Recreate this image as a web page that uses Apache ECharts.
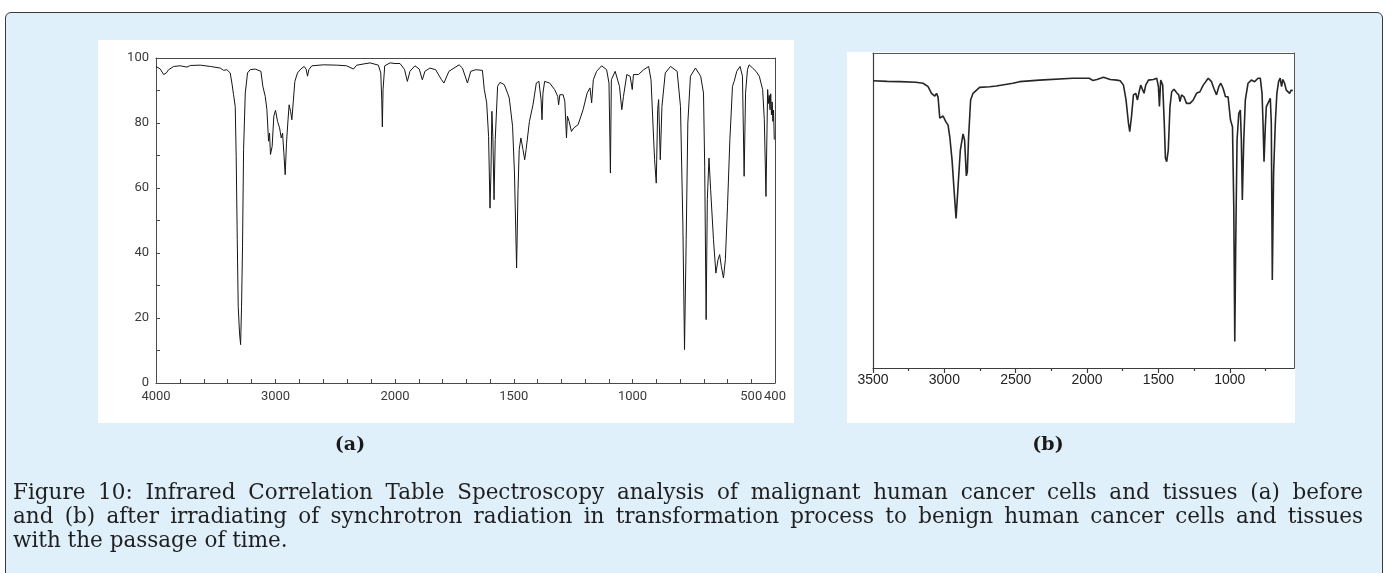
<!DOCTYPE html>
<html>
<head>
<meta charset="utf-8">
<script src="https://cdn.jsdelivr.net/npm/echarts@6/dist/echarts.min.js"></script>
<style>
  html, body { margin: 0; padding: 0; background: #ffffff; }
  body { width: 1392px; height: 573px; overflow: hidden; position: relative; }
  #frame { position: absolute; left: 5px; top: 12px; width: 1378px; height: 620px;
           border: 1px solid #3a3a3a; border-radius: 6px; background: #dff0fb; box-sizing: border-box; }
  .panel { position: absolute; background: #ffffff; }
  #chart { position: absolute; left: 0; top: 0; width: 1392px; height: 573px; }
  .sub { position: absolute; top: 430px; font-family: "DejaVu Serif", serif; font-weight: bold;
         font-size: 19px; color: #1a1a1a; width: 60px; text-align: center; line-height: 26px; }
  #caption { position: absolute; left: 13px; top: 480px; width: 1350px;
             font-family: "DejaVu Serif", serif; font-size: 21.5px; letter-spacing: 0px; color: #1f1f1f; line-height: 24px; }
  #caption .j { white-space: nowrap; text-align: justify; text-align-last: justify; }
  #caption .l { white-space: nowrap; }
</style>
</head>
<body>
<div id="frame"></div>
<div class="panel" style="left:98px;top:40px;width:696px;height:383px;"></div>
<div class="panel" style="left:847px;top:52px;width:448px;height:371px;"></div>
<div id="chart"></div>
<div class="sub" style="left:320px;">(a)</div>
<div class="sub" style="left:1018px;">(b)</div>
<div id="caption">
  <div class="j">Figure 10: Infrared Correlation Table Spectroscopy analysis of malignant human cancer cells and tissues (a) before</div>
  <div class="j">and (b) after irradiating of synchrotron radiation in transformation process to benign human cancer cells and tissues</div>
  <div class="l">with the passage of time.</div>
</div>
<script>
// ---------- Spectrum (a): wavenumber (cm-1) and transmittance (%) ----------
const specA_wavenumber = [
  4000,3964,3936,3914,3894,3852,3797,3741,3713,3629,3546,3462,3434,3407,3379,3365,3351,3337,3329,3320,
  3312,3301,3292,3284,3276,3267,3253,3234,3212,3170,3122,3106,3086,3072,3058,3050,3042,3028,3014,3000,
  2983,2966,2952,2941,2930,2919,2908,2897,2886,2874,2863,2852,2838,2816,2788,2760,2744,2732,2721,2696,
  2599,2487,2404,2348,2320,2209,2139,2119,2111,2106,2100,2086,2041,2000,
  1979,1960,1948,1937,1916,1898,1885,1874,1853,1829,1804,1794,1773,1730,1716,1695,1681,1660,1632,1624,
  1614,1606,1600,1596,1592,1588,1583,1578,1568,1558,1540,1526,1519,1505,1497,1488,1482,1477,1470,1461,
  1454,1448,1434,1419,1411,1405,1394,1385,1381,1377,1370,1349,1328,1315,1311,1306,1292,1285,1278,1274,
  1267,1257,1247,1229,1208,1191,1179,1172,1165,1151,1130,1109,1099,1093,1089,1073,1055,1045,1038,1024,
  1010,1001,996,975,953,932,922,914,907,900,894,890,883,876,862,840,812,798,788,781,
  774,767,756,735,713,701,696,690,685,678,671,659,649,640,633,626,617,609,600,590,
  579,572,561,547,537,530,524,516,509,494,480,466,459,452,445,438,431,427,424,421,
  418,415,412,409,406,403
];
const specA_transmittance = [
  97.4,96.6,94.9,95.4,96.4,97.4,97.6,97.2,97.7,97.8,97.4,96.9,96.2,96.4,95.4,92.3,88.7,85.1,69.7,44.1,
  23.6,15.4,11.8,23.6,42.1,71.8,89.2,95.4,96.4,96.6,95.9,91.3,88.2,84.1,74.4,76.9,70.3,72.8,82.1,83.9,
  80.5,78.5,75.4,76.9,70.8,64.1,73.8,80.0,85.6,83.6,81.0,86.2,92.8,95.4,96.6,97.4,96.6,94.4,96.4,97.6,
  97.9,97.8,97.6,96.6,97.8,98.5,97.8,95.4,87.2,78.8,90.3,97.6,98.5,98.3,
  98.3,96.5,92.8,95.9,97.6,96.6,93.3,95.9,96.9,96.4,93.3,92.3,95.9,97.9,96.9,92.3,95.9,96.4,96.2,90.3,
  86.2,75.9,53.8,64.6,83.6,75.9,56.4,74.9,91.3,92.5,91.8,89.2,87.7,79.0,64.6,35.4,59.5,71.8,75.4,71.8,
  68.7,71.8,80.5,85.6,86.2,92.3,92.8,87.2,81.0,89.2,92.8,92.3,90.3,88.2,85.6,88.7,88.7,86.7,75.4,82.1,
  80.5,77.4,78.5,79.5,84.1,89.2,90.8,86.2,93.3,95.9,97.6,96.4,92.3,64.6,93.3,95.9,91.3,84.1,88.2,94.9,
  94.4,90.3,94.9,94.9,96.4,97.4,93.3,80.0,68.7,61.5,84.1,87.2,68.7,85.1,95.4,97.4,95.9,85.1,49.2,10.3,
  44.1,80.0,94.4,96.9,94.4,89.2,66.7,19.5,56.4,69.2,59.5,44.1,33.8,37.9,39.5,35.9,32.3,37.9,54.4,74.9,
  91.3,92.8,95.9,97.4,94.4,63.6,89.2,96.4,97.9,96.9,95.9,94.4,92.3,90.3,81.0,57.4,90.3,86.0,88.5,84.1,
  89.0,82.5,86.5,80.5,84.0,74.9
];
const specA_xTicksHigh = [2000,2200,2400,2600,2800,3000,3200,3400,3600,3800,4000];
const specA_xLabelsHigh = [4000,3000,2000];
const specA_xTicksLow = [400,500,600,700,800,900,1000,1100,1200,1300,1400,1500,1600,1700,1800,1900,2000];
const specA_xLabelsLow = [1500,1000,500,400];
const specA_yTicks = [0,10,20,30,40,50,60,70,80,90,100];
const specA_yLabels = [0,20,40,60,80,100];

// ---------- Spectrum (b) ----------
const specB_wavenumber = [
  3500,3400,3311,3200,3149,3114,3090,3067,3055,3044,3032,3025,3009,2990,2974,2962,2946,2932,2918,2904,
  2888,2869,2858,2846,2839,2830,2816,2799,2753,2683,2636,2520,2473,2334,2101,1985,1960,1931,1885,1838,
  1791,1768,1745,1727,1710,1701,1689,1675,1659,1647,1635,1624,1610,1601,1589,1570,1535,1512,1500,1493,
  1484,1470,1459,1451,1442,1431,1419,1407,1391,1372,1358,1349,1338,1321,1303,1279,1256,1233,1209,1186,
  1151,1128,1112,1093,1077,1063,1047,1030,1012,995,981,972,965,958,949,937,926,919,912,902,
  891,872,849,826,802,786,774,767,760,751,744,728,716,709,702,693,681,670,658,647,
  637,628,616,604,593,581,570,558
];
const specB_transmittance = [
  91.2,91.0,90.9,90.7,90.4,89.3,87.2,86.3,87.2,86.0,79.3,78.7,80.0,78.2,77.1,73.4,66.0,56.5,47.5,57.6,
  69.2,74.3,72.3,61.0,62.3,73.4,85.1,87.2,89.1,89.3,89.5,90.4,90.9,91.4,92.0,92.0,91.3,91.6,92.3,91.6,
  91.4,91.2,89.8,85.1,77.7,75.0,79.7,86.7,87.2,85.1,87.7,89.8,90.4,87.2,89.8,91.4,91.6,92.0,89.3,83.0,
  91.4,89.8,77.7,66.6,65.5,69.2,83.0,87.7,88.5,87.4,86.7,84.6,86.7,86.1,84.0,84.0,85.1,87.2,87.7,89.8,
  92.0,90.9,88.8,86.7,89.3,90.4,88.8,86.1,86.1,78.7,76.6,51.2,8.4,40.6,72.4,80.8,81.9,72.4,53.3,72.4,
  85.1,90.4,91.4,90.9,92.0,92.0,87.2,77.7,65.5,76.6,82.9,84.5,85.6,77.7,27.9,61.8,77.7,87.2,90.9,92.0,
  89.3,91.6,90.4,88.2,88.8,87.2,88.2,88.1
];
const specB_xMajor = [3500,3000,2500,2000,1500,1000];
const specB_xMinor = [3250,2750,2250,1750,1250,750];

// ---------- build ----------
const pairsA = specA_wavenumber.map((w, i) => [w, specA_transmittance[i]]);
const dataA_high = pairsA.filter(p => p[0] >= 2000);
const dataA_low = pairsA.filter(p => p[0] <= 2000);
const dataB = specB_wavenumber.map((w, i) => [w, specB_transmittance[i]]);

const narrowFont = 'Roboto, "Liberation Sans", sans-serif';
const axisGrayA = '#4a4a4a';
const axisGrayB = '#3c3c3c';
const plain = v => String(v);

function hiddenAxisBits() {
  return { axisTick: { show: false }, axisLabel: { show: false }, splitLine: { show: false } };
}

const option = {
  animation: false,
  backgroundColor: 'transparent',
  grid: [
    { left: 156, top: 58, width: 239, height: 325 },
    { left: 395, top: 58, width: 380, height: 325 },
    { left: 873, top: 53, width: 421, height: 315 }
  ],
  xAxis: [
    { type: 'value', gridIndex: 0, min: 2000, max: 4000, inverse: true, position: 'bottom',
      axisLine: { show: true, lineStyle: { color: axisGrayA, width: 1 } },
      axisTick: { show: true, inside: true, length: 4, customValues: specA_xTicksHigh, lineStyle: { color: axisGrayA } },
      axisLabel: { show: true, customValues: specA_xLabelsHigh, formatter: plain, margin: 7, fontFamily: narrowFont,
                   fontSize: 13, color: '#3a3a3a', hideOverlap: false, showMinLabel: true, showMaxLabel: true },
      splitLine: { show: false } },
    { type: 'value', gridIndex: 1, min: 400, max: 2000, inverse: true, position: 'bottom',
      axisLine: { show: true, lineStyle: { color: axisGrayA, width: 1 } },
      axisTick: { show: true, inside: true, length: 4, customValues: specA_xTicksLow, lineStyle: { color: axisGrayA } },
      axisLabel: { show: true, customValues: specA_xLabelsLow, formatter: plain, margin: 7, fontFamily: narrowFont,
                   fontSize: 13, color: '#3a3a3a', hideOverlap: false, showMinLabel: true, showMaxLabel: true },
      splitLine: { show: false } },
    Object.assign({ type: 'value', gridIndex: 0, min: 2000, max: 4000, inverse: true, position: 'top',
      axisLine: { show: true, lineStyle: { color: axisGrayA, width: 1 } } }, hiddenAxisBits()),
    Object.assign({ type: 'value', gridIndex: 1, min: 400, max: 2000, inverse: true, position: 'top',
      axisLine: { show: true, lineStyle: { color: axisGrayA, width: 1 } } }, hiddenAxisBits()),
    { type: 'value', gridIndex: 2, min: 550, max: 3500, inverse: true, position: 'bottom',
      axisLine: { show: true, lineStyle: { color: axisGrayB, width: 1.2 } },
      axisTick: { show: true, inside: false, length: 5, customValues: specB_xMajor, lineStyle: { color: axisGrayB, width: 1.2 } },
      axisLabel: { show: true, customValues: specB_xMajor, formatter: plain, margin: 5,
                   fontFamily: '"Liberation Sans", Arial, sans-serif', fontSize: 14, color: '#222',
                   hideOverlap: false, showMinLabel: true, showMaxLabel: true },
      splitLine: { show: false } },
    { type: 'value', gridIndex: 2, min: 550, max: 3500, inverse: true, position: 'bottom',
      axisLine: { show: false },
      axisTick: { show: true, inside: false, length: 3, customValues: specB_xMinor, lineStyle: { color: axisGrayB, width: 1.2 } },
      axisLabel: { show: false }, splitLine: { show: false } },
    Object.assign({ type: 'value', gridIndex: 2, min: 550, max: 3500, inverse: true, position: 'top',
      axisLine: { show: true, lineStyle: { color: '#555', width: 1 } } }, hiddenAxisBits())
  ],
  yAxis: [
    { type: 'value', gridIndex: 0, min: 0, max: 100, position: 'left',
      axisLine: { show: true, lineStyle: { color: axisGrayA, width: 1 } },
      axisTick: { show: true, inside: true, length: 4, customValues: specA_yTicks, lineStyle: { color: axisGrayA } },
      axisLabel: { show: true, customValues: specA_yLabels, formatter: plain, margin: 7, fontFamily: narrowFont,
                   fontSize: 13, color: '#3a3a3a', showMinLabel: true, showMaxLabel: true },
      splitLine: { show: false } },
    Object.assign({ type: 'value', gridIndex: 1, min: 0, max: 100, position: 'right',
      axisLine: { show: true, lineStyle: { color: axisGrayA, width: 1 } } }, hiddenAxisBits()),
    Object.assign({ type: 'value', gridIndex: 2, min: 0, max: 100, position: 'left',
      axisLine: { show: true, lineStyle: { color: axisGrayB, width: 1.2 } } }, hiddenAxisBits()),
    Object.assign({ type: 'value', gridIndex: 2, min: 0, max: 100, position: 'right',
      axisLine: { show: true, lineStyle: { color: '#555', width: 1 } } }, hiddenAxisBits())
  ],
  series: [
    { type: 'line', name: '(a) high', xAxisIndex: 0, yAxisIndex: 0, data: dataA_high, showSymbol: false,
      lineStyle: { color: '#151515', width: 1 }, silent: true },
    { type: 'line', name: '(a) low', xAxisIndex: 1, yAxisIndex: 1, data: dataA_low, showSymbol: false,
      lineStyle: { color: '#151515', width: 1 }, silent: true },
    { type: 'line', name: '(b)', xAxisIndex: 4, yAxisIndex: 2, data: dataB, showSymbol: false,
      lineStyle: { color: '#262626', width: 1.6 }, silent: true }
  ]
};

const chart = echarts.init(document.getElementById('chart'), null, { renderer: 'canvas' });
chart.setOption(option);
</script>
</body>
</html>
